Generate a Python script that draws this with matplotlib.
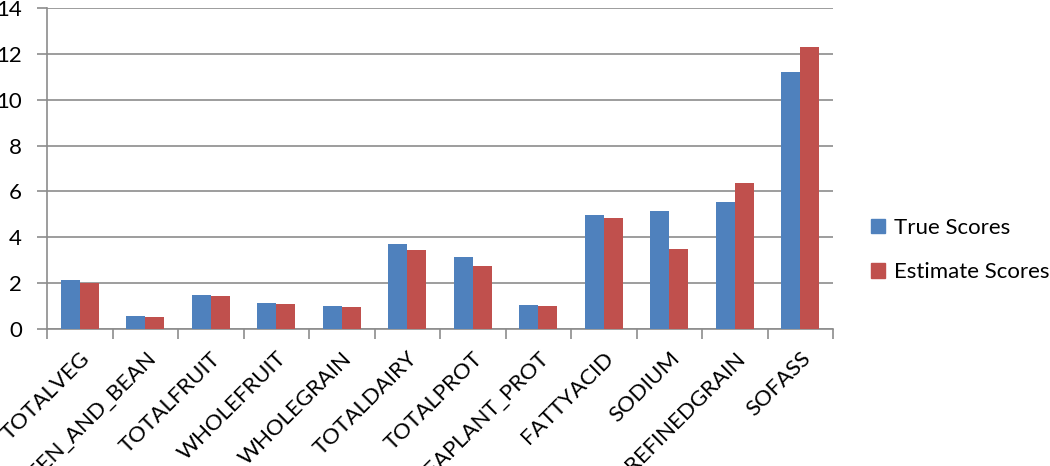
import numpy as np
import matplotlib.pyplot as plt
from matplotlib.patches import Patch

categories = ['TOTALVEG', 'GREEN_AND_BEAN', 'TOTALFRUIT', 'WHOLEFRUIT', 'WHOLEGRAIN',
              'TOTALDAIRY', 'TOTALPROT', 'SEAPLANT_PROT', 'FATTYACID', 'SODIUM',
              'REFINEDGRAIN', 'SOFASS']
true_scores = [2.14, 0.58, 1.47, 1.12, 0.99, 3.70, 3.16, 1.03, 4.98, 5.15, 5.56, 11.21]
estimate_scores = [2.00, 0.53, 1.43, 1.08, 0.94, 3.44, 2.75, 0.99, 4.85, 3.51, 6.36, 12.30]
series_names = ['True Scores', 'Estimate Scores']

blue = '#4F81BD'
red = '#C0504D'
grid_col = '#8C8C8C'

plt.rcParams['font.family'] = ['Lato', 'DejaVu Sans']

fig = plt.figure(figsize=(10.5, 4.66), dpi=100)
ax = fig.add_axes([47 / 1050, 1 - 329 / 466, (833 - 47) / 1050, (329 - 8) / 466])

x = np.arange(len(categories))
w = 0.29
ax.bar(x - w / 2, true_scores, w, color=blue, zorder=3)
ax.bar(x + w / 2, estimate_scores, w, color=red, zorder=3)

ax.set_xlim(-0.5, len(categories) - 0.5)
ax.set_ylim(0, 14)
ax.set_yticks(np.arange(0, 15, 2))
ax.yaxis.grid(True, color=grid_col, linewidth=1.2, zorder=0)
ax.set_axisbelow(True)

# category labels at the centres, tick marks on the boundaries
ax.set_xticks(x)
ax.set_xticklabels(categories, rotation=45, ha='right', va='top', rotation_mode='anchor')
ax.set_xticks(np.arange(-0.5, len(categories)), minor=True)
ax.tick_params(axis='x', which='major', length=0, pad=14, labelsize=16)
ax.tick_params(axis='x', which='minor', length=7, color=grid_col, width=1.2)
ax.tick_params(axis='y', length=7, color=grid_col, width=1.2, labelsize=16, pad=11)

for s in ['top', 'right']:
    ax.spines[s].set_visible(False)
for s in ['left', 'bottom']:
    ax.spines[s].set_color(grid_col)
    ax.spines[s].set_linewidth(1.2)

handles = [Patch(color=blue), Patch(color=red)]
fig.legend(handles, series_names, loc='center left', bbox_to_anchor=(871 / 1050, 1 - 250 / 466),
           frameon=False, fontsize=16, handlelength=0.65, handleheight=0.65,
           handletextpad=0.4, labelspacing=1.1, borderpad=0, borderaxespad=0)

fig.savefig('out.png', dpi=100)
